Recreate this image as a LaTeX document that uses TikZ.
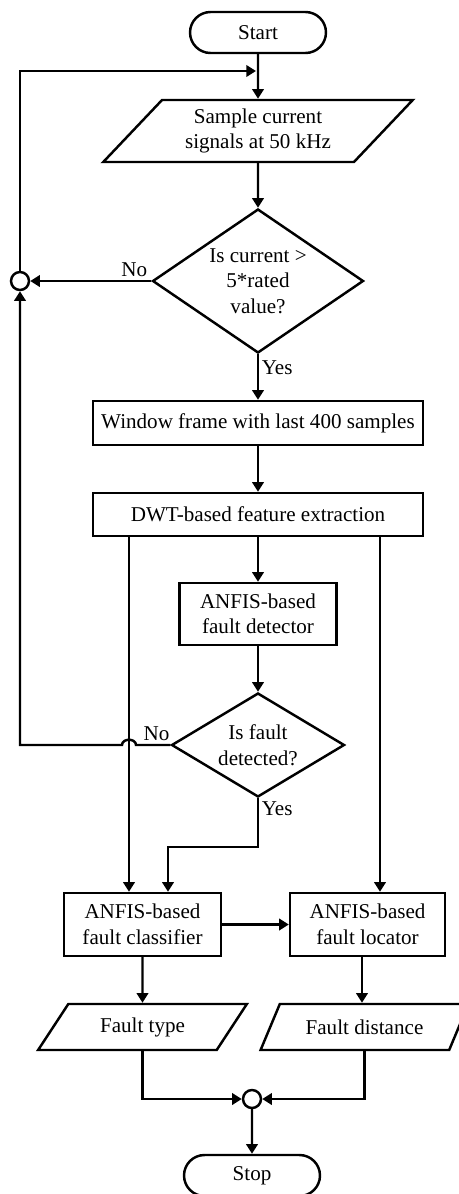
\documentclass[tikz,border=0pt]{standalone}
\usepackage{fontspec}
\setmainfont{Liberation Serif}
\usetikzlibrary{arrows.meta,shapes.geometric,shapes.misc,positioning}

\begin{document}
\begin{tikzpicture}[x=0.02cm, y=-0.02cm, >={Triangle[length=5.5pt,width=6.5pt]},
  line width=1.4pt,
  every node/.style={font=\fontsize{12}{14.5}\selectfont},
  term/.style={draw, rounded rectangle, minimum width=2.72cm, minimum height=0.82cm, inner sep=0pt},
  io/.style={draw, trapezium, trapezium left angle=45, trapezium right angle=135,
    trapezium stretches=true, align=center, inner sep=0pt},
  proc/.style={draw, rectangle, align=center, inner sep=0pt},
  decision/.style={draw, diamond, align=center, inner sep=0pt},
  junc/.style={draw, circle, minimum size=0.36cm, inner sep=0pt},
  lbl/.style={inner sep=1.5pt}]
  \useasboundingbox (0,0) rectangle (459,1194);
  % blocks
  \node[term] (start) at (258,32.5) {Start};
  \node[io, minimum width=6.2cm, minimum height=1.24cm] (sample) at (258,131) {Sample current\\signals at 50 kHz};
  \node[decision, aspect=1.47, minimum width=4.22cm, minimum height=2.88cm] (dec1) at (258,281) {Is current >\\5*rated\\value?};
  \node[junc] (join1) at (20,281) {};
  \coordinate (entry) at (256,71);
  \node[proc, minimum width=6.6cm, minimum height=0.88cm] (window) at (258,423) {Window frame with last 400 samples};
  \node[proc, minimum width=6.6cm, minimum height=0.86cm] (dwt) at (258,514.5) {DWT-based feature extraction};
  \node[proc, minimum width=3.14cm, minimum height=1.24cm] (det) at (258,614) {ANFIS-based\\fault detector};
  \node[decision, aspect=1.66, minimum width=3.46cm, minimum height=2.08cm] (dec2) at (258,745) {Is fault\\detected?};
  \node[proc, minimum width=3.14cm, minimum height=1.26cm] (cls) at (142.5,924.5) {ANFIS-based\\fault classifier};
  \node[proc, minimum width=3.1cm, minimum height=1.26cm] (loc) at (367.5,924.5) {ANFIS-based\\fault locator};
  \node[io, trapezium left angle=48, trapezium right angle=132, minimum width=4.18cm, minimum height=0.92cm] (ftype) at (142.5,1027) {Fault type};
  \node[io, trapezium left angle=48, trapezium right angle=132, minimum width=4.18cm, minimum height=0.92cm] (fdist) at (364.5,1027) {Fault distance};
  \node[junc] (join2) at (252,1099) {};
  \node[term] (stop) at (252,1175.5) {Stop};
  % connectors
  \draw[->] (start) -- (sample);
  \draw[->] (join1) |- (entry);
  \draw[->] (sample) -- (dec1);
  \draw[->] (dec1.west) -- node[lbl, pos=0.14, above] {No} (join1);
  \draw[->] (dec1.south) -- node[lbl, pos=0.3, right] {Yes} (window);
  \draw[->] (window) -- (dwt);
  \draw[->] (dwt) -- (det);
  \draw[->] (det) -- (dec2);
  % fault not detected: back to the loop, hopping over the left line
  \draw[->] (dec2.west) -- node[lbl, pos=0.4, above] {No} (136,745)
    .. controls (136,738) and (122,738) .. (122,745) -- (20,745) -- (join1);
  \draw[->] (dec2.south) -- node[lbl, pos=0.22, right] {Yes} ++(0,49) -| ([xshift=0.51cm]cls.north);
  \draw[->] ([xshift=-0.27cm]cls.north |- dwt.south) -- ([xshift=-0.27cm]cls.north);
  \draw[->] ([xshift=0.25cm]loc.north |- dwt.south) -- ([xshift=0.25cm]loc.north);
  \draw[->] (cls) -- (loc);
  \draw[->] (cls) -- (ftype);
  \draw[->] ([xshift=-0.11cm]loc.south) -- ([xshift=-0.11cm]loc.south |- fdist.north);
  \draw[->] (ftype) |- (join2);
  \draw[->] (fdist) |- (join2);
  \draw[->] (join2) -- (stop);
\end{tikzpicture}
\end{document}
